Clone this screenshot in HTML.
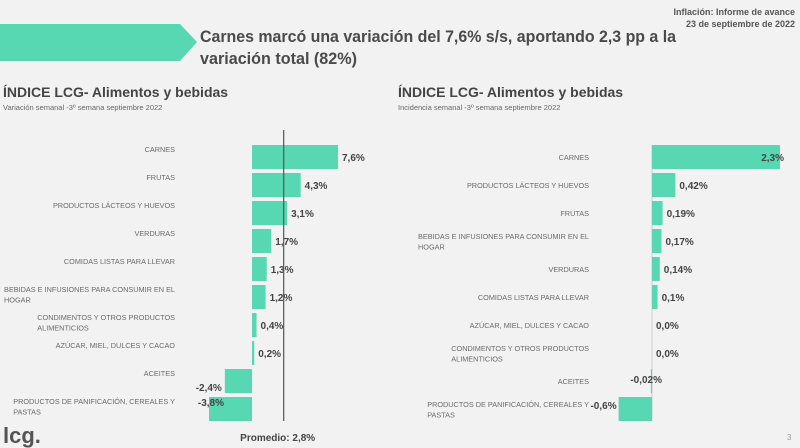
<!DOCTYPE html>
<html><head><meta charset="utf-8"><style>
body{margin:0;background:#f2f2f2;font-family:"Liberation Sans",sans-serif;}
#wrap{position:relative;width:800px;height:448px;overflow:hidden;background:#f2f2f2;}
svg text{font-family:"Liberation Sans",sans-serif;}
</style></head><body>
<div id="wrap">
<svg id="svg" width="800" height="448" xmlns="http://www.w3.org/2000/svg">
<polygon points="0,24 180,24 197,42 180,61 0,61" fill="#57d8b2"/>
<text x="200" y="42" font-size="17" font-weight="bold" fill="#4a4a4a" textLength="476" lengthAdjust="spacingAndGlyphs">Carnes marcó una variación del 7,6% s/s, aportando 2,3 pp a la</text>
<text x="200" y="64" font-size="17" font-weight="bold" fill="#4a4a4a" textLength="157" lengthAdjust="spacingAndGlyphs">variación total (82%)</text>
<text x="795" y="15" font-size="9" font-weight="bold" fill="#555" text-anchor="end">Inflación: Informe de avance</text>
<text x="795" y="27" font-size="9" font-weight="bold" fill="#555" text-anchor="end">23 de septiembre de 2022</text>
<text x="3" y="97" font-size="14" font-weight="bold" fill="#444">ÍNDICE LCG- Alimentos y bebidas</text>
<text x="3" y="110" font-size="7.5" fill="#666">Variación semanal -3º semana septiembre 2022</text>
<text x="398" y="97" font-size="14" font-weight="bold" fill="#444">ÍNDICE LCG- Alimentos y bebidas</text>
<text x="398" y="110" font-size="7.5" fill="#666">Incidencia semanal -3º semana septiembre 2022</text>
<text x="3" y="443" font-size="22" font-weight="bold" fill="#555">lcg.</text>
<text x="787" y="440" font-size="8" fill="#999">3</text>
<g id="left"></g>
<g id="right"></g>
</svg>
</div>
<script>
const leftCategories=[["CARNES"],["FRUTAS"],["PRODUCTOS LÁCTEOS Y HUEVOS"],["VERDURAS"],["COMIDAS LISTAS PARA LLEVAR"],["BEBIDAS E INFUSIONES PARA CONSUMIR EN EL","HOGAR"],["CONDIMENTOS Y OTROS PRODUCTOS","ALIMENTICIOS"],["AZÚCAR, MIEL, DULCES Y CACAO"],["ACEITES"],["PRODUCTOS DE PANIFICACIÓN, CEREALES Y","PASTAS"]];
const leftValues=[7.6,4.3,3.1,1.7,1.3,1.2,0.4,0.2,-2.4,-3.8];
const leftLabels=["7,6%","4,3%","3,1%","1,7%","1,3%","1,2%","0,4%","0,2%","-2,4%","-3,8%"];
const leftAverage=2.8;
const leftAverageLabel="Promedio: 2,8%";
const rightCategories=[["CARNES"],["PRODUCTOS LÁCTEOS Y HUEVOS"],["FRUTAS"],["BEBIDAS E INFUSIONES PARA CONSUMIR EN EL","HOGAR"],["VERDURAS"],["COMIDAS LISTAS PARA LLEVAR"],["AZÚCAR, MIEL, DULCES Y CACAO"],["CONDIMENTOS Y OTROS PRODUCTOS","ALIMENTICIOS"],["ACEITES"],["PRODUCTOS DE PANIFICACIÓN, CEREALES Y","PASTAS"]];
const rightValues=[2.3,0.42,0.19,0.17,0.14,0.1,0.0,0.0,-0.02,-0.6];
const rightLabels=["2,3%","0,42%","0,19%","0,17%","0,14%","0,1%","0,0%","0,0%","-0,02%","-0,6%"];

const NS="http://www.w3.org/2000/svg";
function mk(tag,attrs,parent,txt){const e=document.createElementNS(NS,tag);for(const k in attrs)e.setAttribute(k,attrs[k]);if(txt!==undefined)e.textContent=txt;parent.appendChild(e);return e;}
function rowY(i){return 145+28*i;}
const BH=24;

function draw(gid,cats,vals,labs,zero,scale,labelRight,centered,prefix){
  const g=document.getElementById(gid);
  const x=v=>zero+v*scale;
  cats.forEach((c,i)=>{
    const y=rowY(i);
    const lh=10.5;
    const base=centered?(y+BH/2+3-(c.length-1)*lh/2):(y+7);
    if(c.length===1){
      const t=mk('text',{x:labelRight,y:base,'font-size':'7.3',fill:'#6a6a6a','text-anchor':'end'},g,c[0]);
      
      
    } else {
      const t=mk('text',{'font-size':'7.3',fill:'#6a6a6a'},g);
      
      
      const s1=mk('tspan',{x:0,y:base},t,c[0]);
      const w=s1.getComputedTextLength();
      const sx=Math.max(0,labelRight-w);
      s1.setAttribute('x',sx);
      mk('tspan',{x:sx,y:base+lh},t,c[1]);
    }
  });
  if(gid==='right'){
    const ax=mk('line',{x1:zero,x2:zero,y1:145,y2:421,stroke:'#cfcfcf','stroke-width':1},g);
    
    
  }
  vals.forEach((v,i)=>{
    const y=rowY(i);
    const x0=Math.min(x(0),x(v)),w=Math.abs(x(v)-x(0));
    const r=mk('rect',{x:x0,y:y,width:w,height:BH,fill:'#57d8b2'},g);
    
    
    let tx,anchor;
    if(gid==='right'&&i===0){tx=x(v)+4;anchor='end';}
    else if(v<0){tx=x(v)-3;anchor='end';}
    else if(v===0){tx=x(0)+4;anchor='start';}
    else{tx=x(v)+4;anchor='start';}
    let ty=y+BH/2+4;
    if(gid==='left'&&v<0&&i===8) ty=y+BH/2+10;
    if(gid==='right'&&i===8){tx=x(0)+10;anchor='end';ty=y+BH/2+2;}
    if(gid==='right'&&i===9){tx=x(v)-2;anchor='end';ty=y+BH/2;}
    if(gid==='left'&&i===9){tx=x(v)+15;anchor='end';ty=y+BH/2-3;}
    const t=mk('text',{x:tx,y:ty,'font-size':'10',"font-weight":'bold',fill:'#444','text-anchor':anchor},g,labs[i]);
    
    
  });
  return x;
}
const lx=draw('left',leftCategories,leftValues,leftLabels,252,86/7.6,175,false,'left');
const lg=document.getElementById('left');
const av=mk('line',{x1:lx(leftAverage),x2:lx(leftAverage),y1:130,y2:421,stroke:'#555','stroke-width':1.2},lg);


const avl=mk('text',{x:lx(leftAverage)-6,y:441,'font-size':'10',"font-weight":'bold',fill:'#444','text-anchor':'middle'},lg,leftAverageLabel);


draw('right',rightCategories,rightValues,rightLabels,652,128/2.3,589,true,'right');
</script>
</body></html>
